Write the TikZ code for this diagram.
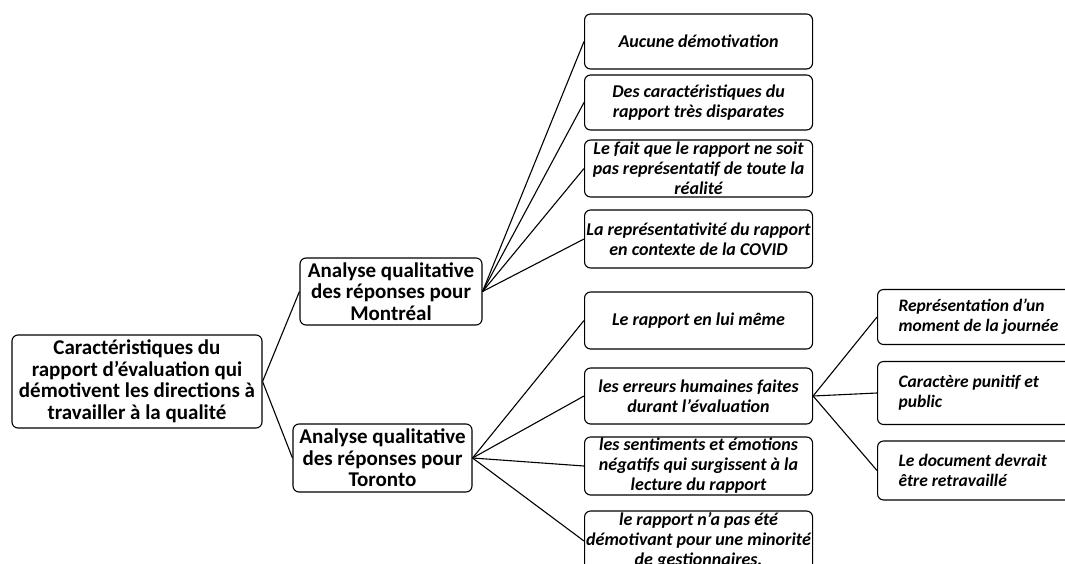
\documentclass[tikz,border=0pt]{standalone}
\usepackage{fontspec}
\setmainfont{Carlito}
\usepackage{tikz}

\tikzset{
	box/.style={draw, rounded corners=6pt, line width=1.1pt, fill=white, inner ysep=0pt},
	headbox/.style={box, align=center, inner xsep=2pt, font=\fontsize{21}{21.5}\selectfont\bfseries},
	leafbox/.style={box, anchor=west, align=center, minimum width=228pt, inner xsep=0pt, font=\fontsize{18}{20}\selectfont\bfseries\itshape},
	subbox/.style={box, anchor=west, align=flush left, text width=170pt, inner xsep=21pt, font=\fontsize{17.5}{20}\selectfont\bfseries\itshape},
	link/.style={line width=1.1pt}
}

\begin{document}
\begin{tikzpicture}[x=1pt, y=-1pt]
	\useasboundingbox (0,0) rectangle (1065,564);
	\node[headbox, minimum width=250pt, minimum height=93pt] (root) at (137,381.5) {Caractéristiques du\\rapport d’évaluation qui\\démotivent les directions à\\travailler à la qualité};
	\node[headbox, minimum width=182pt, minimum height=67pt] (mtl) at (391,291.5) {Analyse qualitative\\des réponses pour\\Montréal};
	\node[headbox, minimum width=179pt, minimum height=68pt] (tor) at (382.5,458) {Analyse qualitative\\des réponses pour\\Toronto};
	\node[leafbox, minimum height=55pt] (m1) at (584,41.5) {Aucune démotivation};
	\node[leafbox, minimum height=55pt] (m2) at (584,102.5) {Des caractéristiques du\\rapport très disparates};
	\node[leafbox, minimum height=57pt] (m3) at (584,168.5) {Le fait que le rapport ne soit\\pas représentatif de toute la\\réalité};
	\node[leafbox, minimum height=58pt] (m4) at (584,239) {La représentativité du rapport\\en contexte de la COVID};
	\node[leafbox, minimum height=57pt] (t1) at (584,320.5) {Le rapport en lui même};
	\node[leafbox, minimum height=56pt] (t2) at (584,396) {les erreurs humaines faites\\durant l’évaluation};
	\node[leafbox, minimum height=58pt] (t3) at (584,466) {les sentiments et émotions\\négatifs qui surgissent à la\\lecture du rapport};
	\node[leafbox, minimum height=60pt] (t4) at (584,541) {le rapport n’a pas été\\démotivant pour une minorité\\de gestionnaires.};
	\node[subbox, minimum height=55pt] (s1) at (877,317) {Représentation d’un\\moment de la journée};
	\node[subbox, minimum height=63pt] (s2) at (877,393) {Caractère punitif et\\public};
	\node[subbox, minimum height=59pt] (s3) at (877,470.5) {Le document devrait\\être retravaillé};
	\draw[link] (root.east) -- (mtl.west);
	\draw[link] (root.east) -- (tor.west);
	\foreach \leaf in {m1,m2,m3,m4}
		\draw[link] (mtl.east) -- (\leaf.west);
	\foreach \leaf in {t1,t2,t3,t4}
		\draw[link] (tor.east) -- (\leaf.west);
	\foreach \leaf in {s1,s2,s3}
		\draw[link] (t2.east) -- (\leaf.west);
\end{tikzpicture}
\end{document}
